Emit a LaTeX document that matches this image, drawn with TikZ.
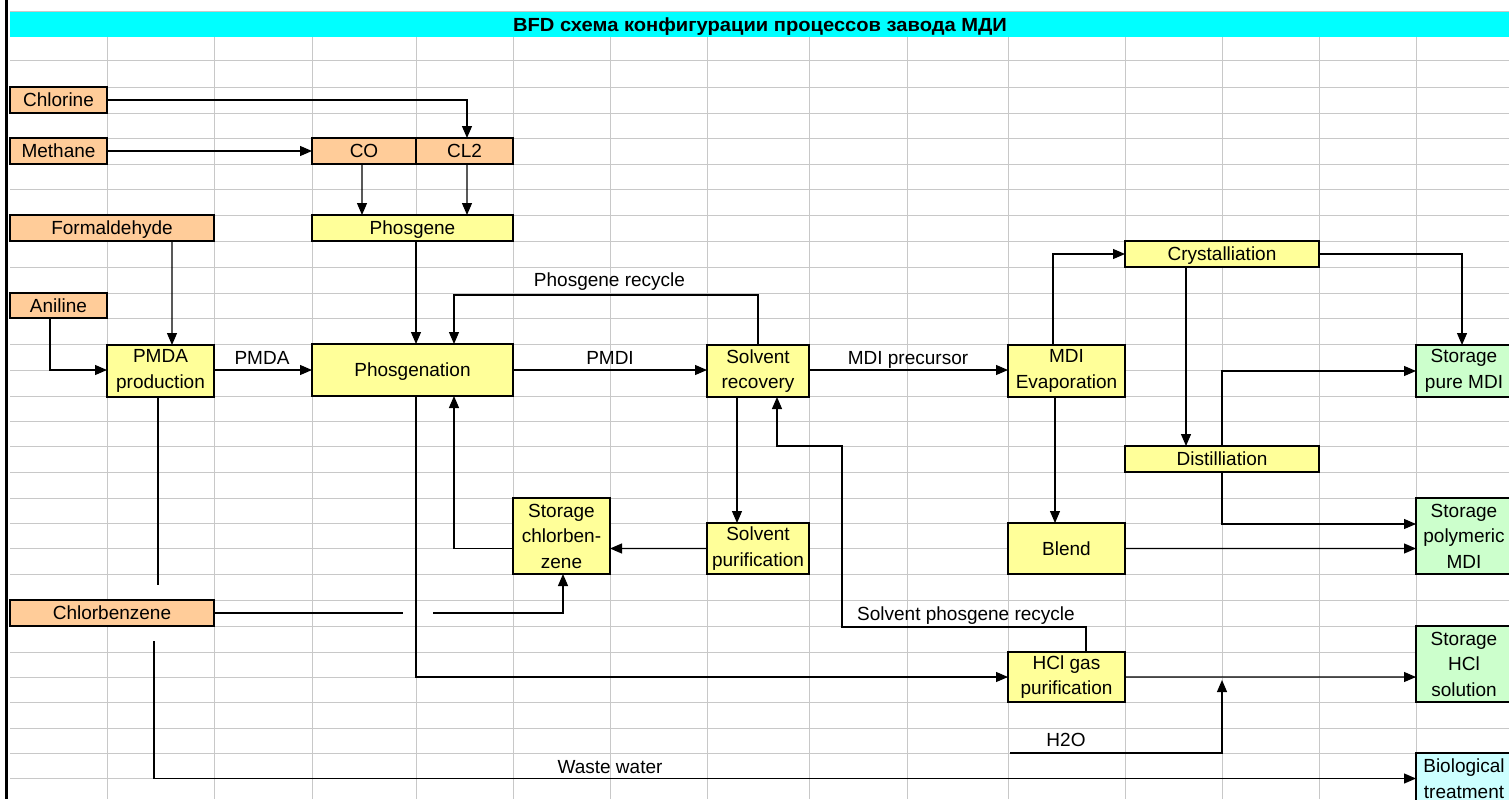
\documentclass[tikz,border=0pt]{standalone}
\usepackage{fontspec}
\setmainfont{Liberation Sans}
\usetikzlibrary{arrows.meta,calc}
\definecolor{orangef}{HTML}{FFCC99}
\definecolor{yellowf}{HTML}{FFFF99}
\definecolor{greenf}{HTML}{CCFFCC}
\definecolor{cyanl}{HTML}{CCFFFF}
\definecolor{titlec}{HTML}{00FFFF}
\definecolor{gridc}{HTML}{C8C8C8}
\newcommand\fs{\fontsize{19bp}{25.5bp}\selectfont}
\tikzset{
  box/.style={draw=black, line width=2.6bp, inner sep=0pt, outer sep=0pt, align=center, font=\fs},
  sl/.style={text height=13.6bp, text depth=0pt},
  obox/.style={box, fill=orangef},
  ybox/.style={box, fill=yellowf},
  gbox/.style={box, fill=greenf},
  cbox/.style={box, fill=cyanl},
  ln/.style={line width=1.2bp},
  arr/.style={line width=1.2bp, -{Triangle[length=12bp,width=10bp]}},
  lab/.style={font=\fs, inner sep=0pt, anchor=base},
  gridline/.style={draw=gridc, line width=1bp}
}
\begin{document}
\begin{tikzpicture}[x=1bp,y=-1bp]
\useasboundingbox (0,0) rectangle (1509,799);
\clip (0,0) rectangle (1509,799);
\fill[white] (0,0) rectangle (1509,799);
% grid
\foreach \yy in {37,61,87,113,138,164,189,215,241,267,293,318,344,370,396,421,446,472,498,523,548,574,600,626,652,677,702,728,753,778}
  \draw[gridline] (10,\yy) -- (1509,\yy);
\foreach \xx in {107,214,312,416,513,610,707,809,907,1008,1125,1222,1319,1416}
  \draw[gridline] (\xx,37) -- (\xx,799);
% title band
\fill[titlec] (10,12) rectangle (1509,37);
\draw[gridline] (10,12) -- (1509,12);
\node[font=\bfseries\fontsize{19bp}{21bp}\selectfont, inner sep=0pt, text height=13.6bp, text depth=0pt] (title) at (760,24.5) {\scalebox{1.06}[1]{BFD схема конфигурации процессов завода МДИ}};
% left border
\draw[line width=3.3bp] (6.7,0) -- (6.7,799);

% boxes
\node[obox, sl, minimum width=97bp, minimum height=26bp] (chlorine) at (58.5,100) {Chlorine};
\node[obox, sl, minimum width=97bp, minimum height=26bp] (methane) at (58.5,151) {Methane};
\node[obox, sl, minimum width=104bp, minimum height=26bp] (co) at (364,151) {CO};
\node[obox, sl, minimum width=97bp, minimum height=26bp] (cl2) at (464.5,151) {CL2};
\node[obox, sl, minimum width=204bp, minimum height=26bp] (formaldehyde) at (112,228) {Formaldehyde};
\node[ybox, sl, minimum width=201bp, minimum height=26bp] (phosgene) at (412.5,228) {Phosgene};
\node[obox, sl, minimum width=97bp, minimum height=25bp] (aniline) at (58.5,305.5) {Aniline};
\node[ybox, minimum width=107bp, minimum height=52bp] (pmda) at (160.5,371) {PMDA\\production};
\node[ybox, sl, minimum width=201bp, minimum height=52bp] (phosgenation) at (412.5,370) {Phosgenation};
\node[ybox, minimum width=102bp, minimum height=52bp] (solvrec) at (758,371) {Solvent\\recovery};
\node[ybox, minimum width=117bp, minimum height=52bp] (mdievap) at (1066.5,371) {MDI\\Evaporation};
\node[ybox, sl, minimum width=194bp, minimum height=26bp] (cryst) at (1222,254) {Crystalliation};
\node[gbox, minimum width=96bp, minimum height=52bp] (storpure) at (1464,371) {Storage\\pure MDI};
\node[ybox, sl, minimum width=194bp, minimum height=26bp] (dist) at (1222,459) {Distilliation};
\node[ybox, minimum width=97bp, minimum height=76bp] (storcb) at (561.5,536) {Storage\\chlorben-\\zene};
\node[ybox, minimum width=102bp, minimum height=51bp] (solvpur) at (758,548.5) {Solvent\\purification};
\node[ybox, sl, minimum width=117bp, minimum height=51bp] (blend) at (1066.5,548.5) {Blend};
\node[gbox, minimum width=96bp, minimum height=76bp] (storpoly) at (1464,536) {Storage\\polymeric\\MDI};
\node[obox, sl, minimum width=204bp, minimum height=26bp] (chlorbenzene) at (112,613) {Chlorbenzene};
\node[ybox, minimum width=117bp, minimum height=50bp] (hclgas) at (1066.5,677) {HCl gas\\purification};
\node[gbox, minimum width=96bp, minimum height=76bp] (storhcl) at (1464,664) {Storage\\HCl\\solution};
\node[cbox, minimum width=96bp, minimum height=51bp] (biotreat) at (1464,778.5) {Biological\\treatment};

% connectors
\draw[arr] (chlorine.east) -| ([xshift=2.5bp]cl2.north);
\draw[arr] (methane.east) -- (co.west);
\draw[arr] ([xshift=-2bp]co.south) -- ([xshift=-50.5bp]phosgene.north);
\draw[arr] ([xshift=2.5bp]cl2.south) -- ([xshift=54.5bp]phosgene.north);
\draw[arr] ([xshift=60bp]formaldehyde.south) -- ([xshift=11.5bp]pmda.north);
\draw[arr] ([xshift=-8.5bp]aniline.south) |- ([yshift=1bp]pmda.west);
\draw[arr] ([yshift=1bp]pmda.east) -- (phosgenation.west);
\draw[arr] ([xshift=3.5bp]phosgene.south) -- ([xshift=3.5bp]phosgenation.north);
\draw[arr] (solvrec.north) -- ++(0,-50) -| ([xshift=41.5bp]phosgenation.north);
\draw[arr] (phosgenation.east) -- ([yshift=1bp]solvrec.west);
\draw[arr] ([yshift=1bp]solvrec.east) -- ([yshift=1bp]mdievap.west);
\draw[arr] ([xshift=-21bp]solvrec.south) -- ([xshift=-21bp]solvpur.north);
\draw[arr] (solvpur.west) -- ([yshift=-12.5bp]storcb.east);
\draw[arr] ([yshift=-12.5bp]storcb.west) -| ([xshift=41.5bp]phosgenation.south);
\draw[ln] (chlorbenzene.east) -- ++(189,0);
\draw[arr] ($(chlorbenzene.east)+(219,0)$) -| ([xshift=1.5bp]storcb.south);
\draw[ln] ([xshift=-2.5bp]pmda.south) -- ++(0,188);
\draw[arr] ([xshift=42bp,yshift=-15bp]chlorbenzene.south) |- (biotreat.west);
\draw[arr] ([xshift=3.5bp]phosgenation.south) |- (hclgas.west);
\draw[arr] ([xshift=19.5bp]hclgas.north) -- ++(0,-25) -| ++(-244,-181) -| ([xshift=19bp]solvrec.south);
\draw[arr] ([xshift=-13.5bp]mdievap.north) |- (cryst.west);
\draw[arr] (cryst.east) -| ([xshift=-2bp]storpure.north);
\draw[arr] ([xshift=-36bp]cryst.south) -- ([xshift=-36bp]dist.north);
\draw[arr] (dist.north) |- (storpure.west);
\draw[arr] (dist.south) |- ([yshift=12bp]storpoly.west);
\draw[arr] ([xshift=-11.5bp]mdievap.south) -- ([xshift=-11.5bp]blend.north);
\draw[arr] (blend.east) -- ([yshift=-12.5bp]storpoly.west);
\draw[arr] (hclgas.east) -- ([yshift=-13bp]storhcl.west);
\coordinate (h2ostart) at (1010,753);
\draw[arr] (h2ostart) -| ($(dist.south |- hclgas.east)+(0,3)$);

% labels
\node[lab] (lpmda) at (262,364) {PMDA};
\node[lab] (lpmdi) at (610,364.5) {PMDI};
\node[lab] (lmdip) at (908,364.5) {MDI precursor};
\node[lab] (lphr) at (609.5,286.5) {Phosgene recycle};
\node[lab] (lspr) at (966,620) {Solvent phosgene recycle};
\node[lab] (lh2o) at (1066,746.5) {H2O};
\node[lab] (lww) at (610,773) {Waste water};
\end{tikzpicture}
\end{document}
